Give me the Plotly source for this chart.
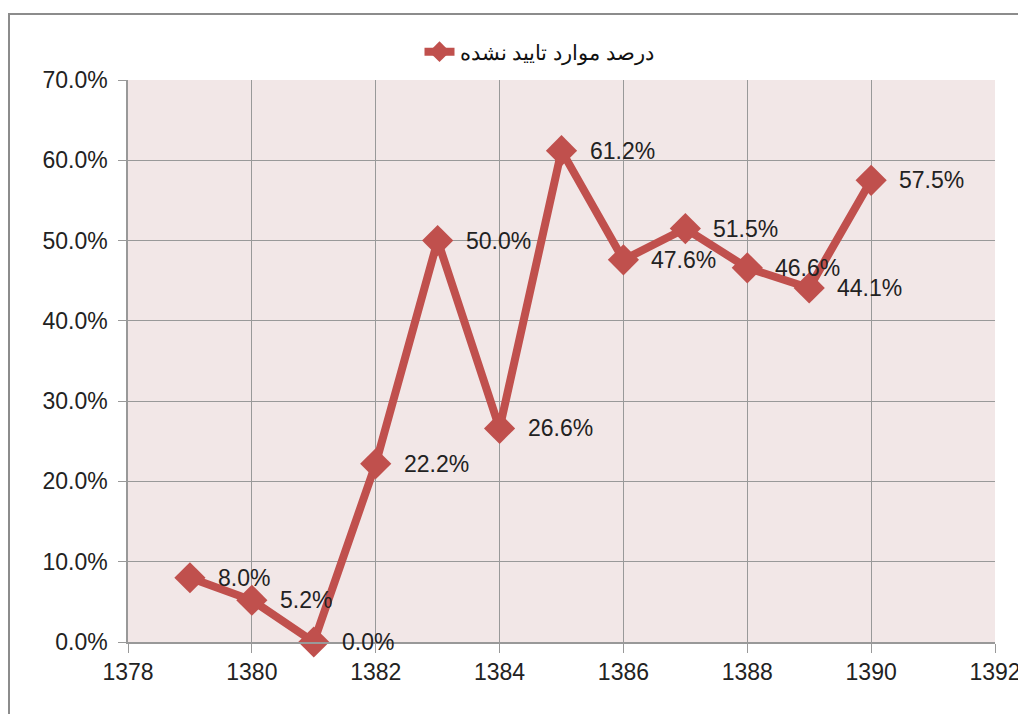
import plotly.graph_objects as go

years = [1379, 1380, 1381, 1382, 1383, 1384, 1385, 1386, 1387, 1388, 1389, 1390]
values = [8.0, 5.2, 0.0, 22.2, 50.0, 26.6, 61.2, 47.6, 51.5, 46.6, 44.1, 57.5]
labels = ["8.0%", "5.2%", "0.0%", "22.2%", "50.0%", "26.6%", "61.2%", "47.6%", "51.5%", "46.6%", "44.1%", "57.5%"]
series_name = "درصد موارد تایید نشده"
x_ticks = [1378, 1380, 1382, 1384, 1386, 1388, 1390, 1392]
y_ticks = [0, 10, 20, 30, 40, 50, 60, 70]
y_tick_labels = ["0.0%", "10.0%", "20.0%", "30.0%", "40.0%", "50.0%", "60.0%", "70.0%"]

color = "#C0504D"
grid = "#999999"
font_family = "Liberation Sans, Arial, sans-serif"

fig = go.Figure()
fig.add_trace(go.Scatter(
    x=years, y=values, mode="lines+markers", name=series_name,
    line=dict(color=color, width=8),
    marker=dict(symbol="diamond", size=24, color=color),
    cliponaxis=False,
))

annotations = []
for xv, yv, t in zip(years, values, labels):
    annotations.append(dict(x=xv, y=yv, xref="x", yref="y", text=t, showarrow=False,
                            xanchor="left", yanchor="middle", xshift=26,
                            font=dict(family=font_family, size=23, color="#222")))

# page offset of 8px (body margin)
OFF = 8
W, H = 1026 - OFF, 722 - 2 * OFF
L, R, T, B = 128 - OFF, 995 - OFF, 80 - OFF, 642 - OFF
pw, ph = R - L, B - T
shapes = [dict(type="rect", xref="paper", yref="paper",
               x0=(9 - OFF - L) / pw, x1=(W + 30 - L) / pw,
               y0=(B - (H + 30)) / ph, y1=(B - (14 - OFF)) / ph,
               line=dict(color="#8C8C8C", width=2), fillcolor="rgba(0,0,0,0)", layer="below")]

fig.update_layout(
    width=W, height=H,
    margin=dict(l=L, r=W - R, t=T, b=H - B, autoexpand=False),
    paper_bgcolor="white", plot_bgcolor="#F2E7E7",
    font=dict(family=font_family, size=23, color="#222"),
    showlegend=True,
    legend=dict(x=0.5 - 22 / pw, xanchor="center", y=(B - (52 - OFF)) / ph, yanchor="middle",
                orientation="h", font=dict(size=21, color="#111"), bgcolor="rgba(0,0,0,0)"),
    annotations=annotations,
    shapes=shapes,
    xaxis=dict(range=[1378, 1392], tickvals=x_ticks, ticktext=[str(v) for v in x_ticks],
               showgrid=True, gridcolor=grid, gridwidth=1, automargin=False,
               showline=True, linecolor=grid, linewidth=1.5,
               ticks="outside", ticklen=9, tickcolor=grid, zeroline=False,
               tickfont=dict(size=23)),
    yaxis=dict(range=[0, 70], tickvals=y_ticks, ticktext=y_tick_labels,
               showgrid=True, gridcolor=grid, gridwidth=1, automargin=False,
               showline=True, linecolor=grid, linewidth=1.5,
               ticks="outside", ticklen=8, tickcolor=grid, zeroline=False,
               ticklabelstandoff=6, tickfont=dict(size=23)),
)

fig.write_html("out.html")
